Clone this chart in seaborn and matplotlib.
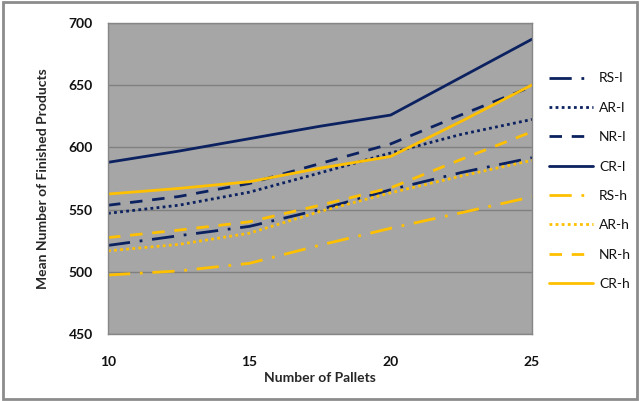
import matplotlib
matplotlib.use("Agg")
import matplotlib.pyplot as plt
import matplotlib.patches as mpatches
import seaborn as sns

# Number of pallets at which the mean output was evaluated
pallets = [10, 12.5, 15, 17.5, 20, 22.5, 25]

# Mean number of finished products per routing rule (l = low, h = high)
rs_l = [521.2, 529.0, 536.5, 550.0, 566.0, 579.8, 591.7]
ar_l = [547.0, 553.5, 564.0, 579.5, 595.5, 610.5, 622.5]
nr_l = [553.5, 560.5, 571.0, 587.0, 602.8, 626.2, 649.0]
cr_l = [588.0, 597.0, 607.0, 617.0, 626.0, 656.5, 687.0]
rs_h = [497.4, 500.7, 506.8, 521.4, 535.0, 547.5, 560.3]
ar_h = [516.8, 522.0, 531.0, 548.5, 563.5, 577.0, 589.6]
nr_h = [527.5, 533.5, 540.2, 553.5, 567.5, 590.4, 612.6]
cr_h = [562.5, 567.0, 572.4, 583.3, 592.7, 621.0, 650.2]

labels = ["RS-l", "AR-l", "NR-l", "CR-l", "RS-h", "AR-h", "NR-h", "CR-h"]
series = [rs_l, ar_l, nr_l, cr_l, rs_h, ar_h, nr_h, cr_h]

NAVY = "#0b2160"
GOLD = "#ffc000"
styles = {
    "RS": (0, (8, 3.5, 1, 3.5)),
    "AR": (0, (1, 1.2)),
    "NR": (0, (4.5, 3.5)),
    "CR": "solid",
}

sns.set_theme(style="white")
plt.rcParams["font.family"] = ["Lato", "DejaVu Sans"]

fig = plt.figure(figsize=(6.4, 4.01), dpi=100)
ax = fig.add_axes([108 / 640, 1 - 334 / 401, (532 - 108) / 640, (334 - 23) / 401])
ax.set_facecolor("#a6a6a6")

for lab, vals in zip(labels, series):
    color = NAVY if lab.endswith("l") else GOLD
    ls = styles[lab[:2]]
    sns.lineplot(x=pallets, y=vals, ax=ax, color=color, linestyle=ls,
                 linewidth=2.0, label=lab)

ax.set_xlim(10, 25)
ax.set_ylim(450, 700)
ax.set_xticks([10, 15, 20, 25])
ax.set_yticks([450, 500, 550, 600, 650, 700])
ax.yaxis.grid(True, color="#808080", linewidth=1.0)
ax.xaxis.grid(False)
ax.set_axisbelow(True)
for sp in ax.spines.values():
    sp.set_color("#868686")
    sp.set_linewidth(1.0)
ax.tick_params(axis="both", direction="out", length=5, width=1,
               color="#868686", labelsize=10)
ax.tick_params(axis="y", pad=6)
ax.tick_params(axis="x", pad=11)
for t in ax.get_xticklabels() + ax.get_yticklabels():
    t.set_fontweight("bold")
    t.set_color("#111111")

ax.set_xlabel("Number of Pallets", fontsize=10, fontweight="bold", labelpad=3)
ax.set_ylabel("Mean Number of Finished Products", fontsize=10,
              fontweight="bold", labelpad=14)

ax.get_legend().remove()
handles, hl = ax.get_legend_handles_labels()
leg = fig.legend(handles, hl, loc="upper left",
                 bbox_to_anchor=(536 / 640, 1 - 60 / 401),
                 frameon=False, fontsize=10, handlelength=3.2,
                 labelspacing=1.25, handletextpad=0.45)
for t in leg.get_texts():
    t.set_color("#111111")

# thin frame around the whole figure
fig.patches.append(mpatches.Rectangle((0.004, 0.006), 0.992, 0.988,
                                      transform=fig.transFigure, fill=False,
                                      edgecolor="#8c8c8c", linewidth=2))

fig.savefig("out.png", dpi=100)
